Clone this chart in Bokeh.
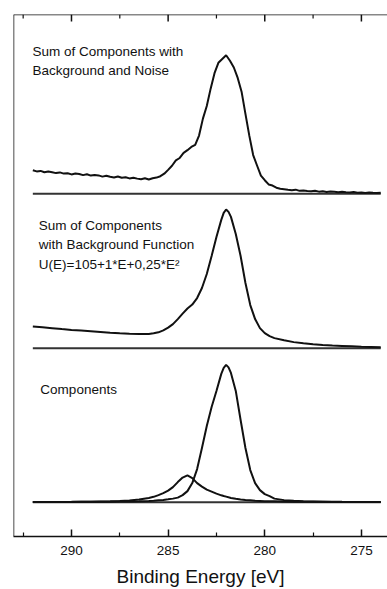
from bokeh.plotting import figure
from bokeh.models import Range1d, FixedTicker, Label, Span
from bokeh.embed import file_html
from bokeh.resources import INLINE

# ---------------- data ----------------
# Binding energy grid for the smooth curves [eV]
energy = [292, 291.5, 291, 290.5, 290, 289.5, 289, 288.5, 288, 287.5, 287, 286.5,
          286, 285.75, 285.5, 285.25, 285, 284.75, 284.5, 284.25, 284, 283.75,
          283.5, 283.25, 283, 282.75, 282.5, 282.25, 282.125, 282, 281.875, 281.75,
          281.5, 281.25, 281, 280.75, 280.5, 280.25, 280, 279.75, 279.5, 279,
          278.5, 278, 277.5, 277, 276.5, 276, 275.5, 275, 274.5, 274]

# main component (peak ~282.0 eV)
comp_main = [0.1, 0.1, 0.15, 0.2, 0.2, 0.3, 0.3, 0.4, 0.5, 0.6, 0.7, 0.9,
             1.2, 1.4, 1.8, 2.2, 2.8, 3.5, 4.5, 7, 11, 19,
             33, 54, 76, 95, 111, 128, 134, 137, 134.5, 129,
             111, 82, 54, 32, 19, 12, 8, 6, 3.5, 2.0,
             1.3, 0.9, 0.7, 0.5, 0.4, 0.3, 0.25, 0.2, 0.1, 0.1]

# small component (peak ~284.0 eV)
comp_small = [0.1, 0.15, 0.2, 0.25, 0.3, 0.4, 0.5, 0.65, 0.8, 1.1, 1.6, 2.6,
              4.2, 5.3, 7, 9, 11.5, 15, 20, 24.5, 26.7, 24,
              19, 15.5, 12.5, 10.5, 8.5, 6.8, 6.1, 5.5, 4.8, 4.2,
              3.3, 2.7, 2.2, 1.8, 1.4, 1.2, 1.0, 0.9, 0.8, 0.6,
              0.5, 0.4, 0.35, 0.3, 0.25, 0.2, 0.15, 0.1, 0.1, 0.1]

# sum of components with background function
sum_bg = [21.7, 20.8, 19.9, 19.0, 18.2, 17.5, 16.8, 16.1, 15.4, 14.8, 14.3, 14.0,
          14.2, 14.8, 15.8, 17.8, 20.5, 24, 29, 34.5, 39.5, 43.5,
          50, 60, 74, 92, 111, 128, 135, 138.4, 136, 131,
          114, 92, 65, 43, 29, 20, 15, 12, 10, 7.8,
          6, 4.8, 3.9, 3.2, 2.6, 2.2, 1.8, 1.4, 1.1, 0.8]

# noisy spectrum
energy_noisy = [292.0, 291.8, 291.6, 291.4, 291.2, 291.0, 290.8, 290.6, 290.4, 290.2,
                290.0, 289.8, 289.6, 289.4, 289.2, 289.0, 288.8, 288.6, 288.4, 288.2,
                288.0, 287.8, 287.6, 287.4, 287.2, 287.0, 286.8, 286.6, 286.4, 286.2,
                286.0, 285.8, 285.6, 285.4, 285.2, 285.0, 284.8, 284.6, 284.4, 284.2,
                284.0, 283.8, 283.6, 283.4, 283.2, 283.0, 282.8, 282.6, 282.4, 282.2,
                282.0, 281.8, 281.6, 281.4, 281.2, 281.0, 280.8, 280.6, 280.4, 280.2,
                280.0, 279.8, 279.6, 279.4, 279.2, 279.0, 278.8, 278.6, 278.4, 278.2,
                278.0, 277.8, 277.6, 277.4, 277.2, 277.0, 276.8, 276.6, 276.4, 276.2,
                276.0, 275.8, 275.6, 275.4, 275.2, 275.0, 274.8, 274.6, 274.4, 274.2,
                274.0]
noisy = [23.5, 22.4, 22.9, 21.5, 22.3, 21.6, 20.7, 21.4, 20.2, 20.6,
         19.4, 20.3, 19.8, 18.7, 19.5, 18.2, 18.9, 18.4, 17.2, 18.1,
         17.0, 16.4, 17.3, 16.0, 16.6, 15.4, 16.1, 15.2, 14.6, 15.5,
         14.3, 15.6, 16.2, 17.6, 20.1, 23.9, 28.0, 33.4, 35.8, 40.9,
         43.6, 46.8, 48.9, 58.2, 75.1, 87.6, 105.0, 120.4, 130.8, 134.6,
         138.3, 132.8, 126.1, 115.7, 102.0, 79.8, 58.1, 38.7, 28.3, 18.2,
         13.6, 9.4, 8.3, 6.1, 5.0, 4.6, 4.1, 3.7, 4.2, 3.0,
         3.4, 2.9, 2.6, 3.0, 2.2, 2.5, 1.9, 2.4, 2.0, 1.5,
         2.0, 1.6, 1.3, 1.8, 1.2, 1.4, 0.9, 1.3, 1.0, 0.8,
         1.0]

major_ticks = [290, 285, 280, 275]
minor_ticks = [292.5, 287.5, 282.5, 277.5]

# ---------------- layout ----------------
FONT = "Liberation Sans"
INK = "#111111"
off_top, off_mid, off_bot = 342, 188, 34.3
Y_TOP = 521

p = figure(width=387, height=589, x_range=Range1d(293.0, 273.65), y_range=Range1d(0, Y_TOP),
           output_backend="svg", toolbar_location=None,
           min_border_left=13, min_border_right=0, min_border_top=14, min_border_bottom=0)
p.grid.visible = False
p.outline_line_color = None
p.background_fill_color = "white"
p.border_fill_color = "white"
p.yaxis.visible = False

xa = p.xaxis[0]
xa.ticker = FixedTicker(ticks=major_ticks, minor_ticks=minor_ticks)
xa.major_tick_in = 7
xa.major_tick_out = 0
xa.minor_tick_in = 4
xa.minor_tick_out = 0
xa.axis_line_width = 1.5
xa.major_tick_line_width = 1.5
xa.minor_tick_line_width = 1.2
xa.axis_line_color = INK
xa.major_tick_line_color = INK
xa.minor_tick_line_color = INK
xa.major_label_text_font = FONT
xa.major_label_text_font_size = "13.5px"
xa.major_label_text_color = INK
xa.major_label_standoff = 9
xa.axis_label = "Binding Energy [eV]"
xa.axis_label_text_font = FONT
xa.axis_label_text_font_size = "19px"
xa.axis_label_text_font_style = "normal"
xa.axis_label_text_color = INK
xa.axis_label_standoff = 8

# frame: left and top border lines
p.add_layout(Span(location=Y_TOP, dimension="width", line_color=INK, line_width=1.5))
p.add_layout(Span(location=293.0, dimension="height", line_color=INK, line_width=1.5))
# ticks along the top border (pointing inward)
p.segment(x0=major_ticks, y0=[Y_TOP] * len(major_ticks), x1=major_ticks,
          y1=[Y_TOP - 7] * len(major_ticks), line_color=INK, line_width=1.5)
p.segment(x0=minor_ticks, y0=[Y_TOP] * len(minor_ticks), x1=minor_ticks,
          y1=[Y_TOP - 4] * len(minor_ticks), line_color=INK, line_width=1.2)

# baselines
for off in (off_top, off_mid, off_bot):
    p.line([energy[0], energy[-1]], [off, off], line_color="#333333", line_width=2)

# curves
p.line(energy_noisy, [v + off_top for v in noisy], line_color=INK, line_width=2)
p.line(energy, [v + off_mid for v in sum_bg], line_color=INK, line_width=2)
p.line(energy, [v + off_bot for v in comp_main], line_color=INK, line_width=2)
p.line(energy, [v + off_bot for v in comp_small], line_color=INK, line_width=2)

def lab(x, y, t):
    p.add_layout(Label(x=x, y=y, text=t, text_font=FONT, text_font_size="13.5px",
                       text_baseline="alphabetic", text_align="left", text_color=INK))

lab(292.02, 484.3, "Sum of Components with")
lab(292.02, 465.0, "Background and Noise")
lab(291.69, 310.0, "Sum of Components")
lab(291.69, 291.0, "with Background Function")
lab(291.69, 271.5, "U(E)=105+1*E+0,25*E\u00b2")
lab(291.61, 147.0, "Components")

open("out.html", "w").write(file_html(p, INLINE))
